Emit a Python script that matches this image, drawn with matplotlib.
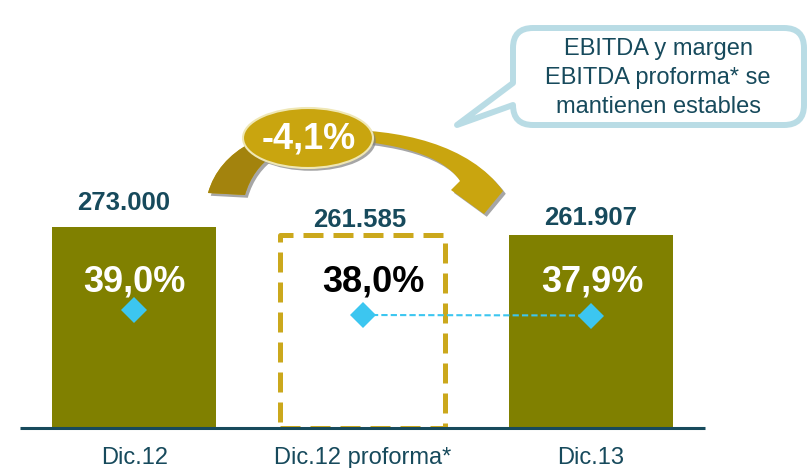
import matplotlib.pyplot as plt
import matplotlib.patheffects as pe
from matplotlib.patches import Ellipse, PathPatch, Rectangle
from matplotlib.path import Path

plt.rcParams["font.family"] = "Liberation Sans"

# Data
categories = ["Dic.12", "Dic.12 proforma*", "Dic.13"]
ebitda = [273000, 261585, 261907]
ebitda_labels = ["273.000", "261.585", "261.907"]
margin = [39.0, 38.0, 37.9]
margin_labels = ["39,0%", "38,0%", "37,9%"]

# Colors
olive = "#808000"
gold = "#c9a50f"
gold_dark = "#a3830d"
dash_gold = "#cba81c"
navy = "#174a5c"
cyan = "#3cc6f0"
bubble_edge = "#b9dce5"

# Create plot
fig, ax = plt.subplots(figsize=(8.11, 4.68))
fig.subplots_adjust(left=0, right=1, bottom=40 / 468, top=1)

x = list(range(len(categories)))

# Solid bars for Dic.12 and Dic.13, dashed outline for the proforma
ax.bar([x[0], x[2]], [ebitda[0], ebitda[2]], width=0.72, color=olive)
ax.bar(x[1], ebitda[1], width=0.72, fill=False, edgecolor=dash_gold, linewidth=3.6,
       linestyle=(0, (4, 2)), joinstyle="round")

# Base line
ax.hlines(0, -0.50, 2.5, color=navy, linewidth=2.2, clip_on=False)

# Axis settings
ax.set_xlim(-0.588, 2.964)
ax.set_ylim(0, 581300)
ax.set_xticks(x)
ax.set_xticklabels(categories)
ax.tick_params(axis="x", length=0, pad=14, labelsize=17, labelcolor=navy)
ax.set_yticks([])
for spine in ax.spines.values():
    spine.set_visible(False)

# EBITDA labels above bars
label_offsets = [(-8, 12), (-2, 6), (0, 7.5)]  # points
for i, (val, label) in enumerate(zip(ebitda, ebitda_labels)):
    ax.annotate(label, (x[i], val), xytext=label_offsets[i], textcoords="offset points",
                ha="center", va="baseline", fontsize=18.5, fontweight="bold", color=navy)

# Margin labels inside bars
margin_colors = ["white", "black", "white"]
margin_dx = [0, 0.046, 0.005]
for i, label in enumerate(margin_labels):
    ax.text(x[i] + margin_dx[i], 186000, label, ha="center", va="baseline",
            fontsize=26, fontweight="bold", color=margin_colors[i])

# Margin markers on secondary axis
ax2 = ax.twinx()
ax2.plot(x[1:], margin[1:], linestyle="--", dashes=(3, 1.5), color=cyan, linewidth=1.5)
ax2.plot(x, margin, "D", markersize=13, color=cyan, markeredgewidth=0)
ax2.set_ylim(15.4, 101)
ax2.axis("off")

# Overlay in pixel units for the arrow and the callout
ov = fig.add_axes([0, 0, 1, 1])
ov.set_xlim(0, 811)
ov.set_ylim(468, 0)
ov.axis("off")

# Curved arrow
arrow_verts = [
    (208, 193),
    (220, 150), (268, 124), (330, 130),
    (400, 128), (470, 145), (503, 191),
    (484, 214),
    (451, 190),
    (460, 181),
    (440, 150), (375, 140), (330, 140),
    (285, 140), (255, 160), (245, 195),
    (208, 193),
]
arrow_codes = [Path.MOVETO] + [Path.CURVE4] * 6 + [Path.LINETO] * 3 + [Path.CURVE4] * 6 + [Path.CLOSEPOLY]
arrow_path = Path(arrow_verts, arrow_codes)
shadow = [pe.SimplePatchShadow(offset=(2, -2), shadow_rgbFace="gray", alpha=0.7), pe.Normal()]
ov.add_patch(PathPatch(arrow_path, facecolor=gold, edgecolor="none", path_effects=shadow))
tail = PathPatch(arrow_path, facecolor=gold_dark, edgecolor="none")
ov.add_patch(tail)
tail.set_clip_path(Rectangle((0, 0), 300, 468, transform=ov.transData))

# Ellipse with the change
ov.add_patch(Ellipse((308, 138), 130, 60, facecolor=gold, edgecolor="#efe7b5", linewidth=1.5,
                     path_effects=shadow))
ov.text(309, 148, "-4,1%", ha="center", va="baseline", fontsize=26, fontweight="bold", color="white")

# Speech bubble
L, R, T, B, r = 513, 804, 28, 125, 20
bubble_verts = [
    (L + r, T), (R - r, T), (R, T), (R, T + r), (R, B - r), (R, B), (R - r, B),
    (L + r, B), (L, B), (L, B - r), (457, 125), (L, 83), (L, T + r), (L, T), (L + r, T),
    (L + r, T),
]
bubble_codes = [Path.MOVETO, Path.LINETO, Path.CURVE3, Path.CURVE3, Path.LINETO, Path.CURVE3, Path.CURVE3,
                Path.LINETO, Path.CURVE3, Path.CURVE3, Path.LINETO, Path.LINETO, Path.LINETO, Path.CURVE3,
                Path.CURVE3, Path.CLOSEPOLY]
ov.add_patch(PathPatch(Path(bubble_verts, bubble_codes), facecolor="white", edgecolor=bubble_edge,
                       linewidth=4.3, joinstyle="round"))
ov.text(658, 78, "EBITDA y margen\nEBITDA proforma* se\nmantienen estables", ha="center", va="center",
        fontsize=17, color=navy, linespacing=1.4)

plt.savefig("out.png", dpi=100)
plt.close()

print("Saved plot: out.png")
